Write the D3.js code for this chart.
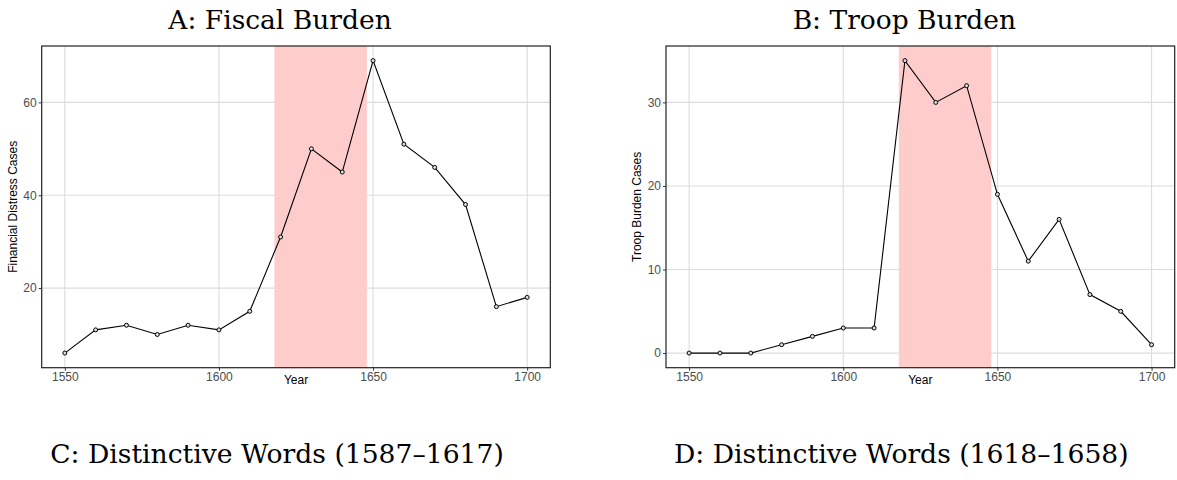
<!DOCTYPE html>
<html>
<head>
<meta charset="utf-8">
<script src="https://cdn.jsdelivr.net/npm/d3@7"></script>
<style>
  body { margin: 0; background: #fff; }
  .tick text { font-family: "Liberation Sans", Arial, sans-serif; font-size: 12px; fill: #4d4d4d; }
  .tick line { stroke: #333; }
  .ttl { font-family: "DejaVu Serif", "Liberation Serif", serif; fill: #000; }
  .axt { font-family: "Liberation Sans", Arial, sans-serif; font-size: 12px; fill: #000; }
</style>
</head>
<body>
<svg id="chart" width="1177" height="480"></svg>
<script>
// data
const years = [1550,1560,1570,1580,1590,1600,1610,1620,1630,1640,1650,1660,1670,1680,1690,1700];
const fiscalCases = [6,11,12,10,12,11,15,31,50,45,69,51,46,38,16,18];
const troopCases  = [0,0,0,1,2,3,3,35,30,32,19,11,16,7,5,1];
const shadeYears = [1618, 1648];
const xTicks = [1550,1600,1650,1700];
const fiscalTicks = [20,40,60];
const troopTicks = [0,10,20,30];
const topTitles = ["A: Fiscal Burden", "B: Troop Burden"];
const bottomTitles = ["C: Distinctive Words (1587\u20131617)", "D: Distinctive Words (1618\u20131658)"];

let svg = d3.select("#chart");

function drawPanel(left, right, values, yTicks, yLabel, title, subTitle) {
  let top = 46, bottom = 367.7;
  let g = svg.append("g");

  // ggplot-style 5% expansion
  let xr = d3.extent(years), xe = (xr[1] - xr[0]) * 0.05;
  let yr = d3.extent(values), ye = (yr[1] - yr[0]) * 0.05;
  let x = d3.scaleLinear().domain([xr[0] - xe, xr[1] + xe]).range([left, right]);
  let y = d3.scaleLinear().domain([yr[0] - ye, yr[1] + ye]).range([bottom, top]);

  // grid
  g.selectAll(".vg").data(xTicks).enter().append("line")
    .attr("x1", d => x(d)).attr("x2", d => x(d))
    .attr("y1", top).attr("y2", bottom)
    .attr("stroke", "#dcdcdc").attr("stroke-width", 1.1);
  g.selectAll(".hg").data(yTicks).enter().append("line")
    .attr("y1", d => y(d)).attr("y2", d => y(d))
    .attr("x1", left).attr("x2", right)
    .attr("stroke", "#dcdcdc").attr("stroke-width", 1.1);

  // shaded period
  g.append("rect")
    .attr("x", x(shadeYears[0])).attr("width", x(shadeYears[1]) - x(shadeYears[0]))
    .attr("y", top).attr("height", bottom - top)
    .attr("fill", "#ffcccc");

  // line + points
  let line = d3.line().x((d, i) => x(years[i])).y(d => y(d));
  g.append("path").datum(values)
    .attr("d", line).attr("fill", "none").attr("stroke", "#000").attr("stroke-width", 1.1);
  g.selectAll(".pt").data(values).enter().append("circle")
    .attr("cx", (d, i) => x(years[i])).attr("cy", d => y(d)).attr("r", 2)
    .attr("fill", "#ddd").attr("stroke", "#000").attr("stroke-width", 1);

  // border
  g.append("rect")
    .attr("x", left).attr("y", top).attr("width", right - left).attr("height", bottom - top)
    .attr("fill", "none").attr("stroke", "#222").attr("stroke-width", 1.2);

  // axes
  let ax = g.append("g").attr("transform", "translate(0," + bottom + ")")
    .call(d3.axisBottom(x).tickValues(xTicks).tickFormat(d3.format("d")).tickSize(3).tickPadding(1.5));
  ax.select(".domain").remove();
  let ay = g.append("g").attr("transform", "translate(" + left + ",0)")
    .call(d3.axisLeft(y).tickValues(yTicks).tickSize(3).tickPadding(2));
  ay.select(".domain").remove();

  // axis titles
  g.append("text").attr("class", "axt")
    .attr("x", (left + right) / 2).attr("y", 384.3).attr("text-anchor", "middle").text("Year");
  g.append("text").attr("class", "axt")
    .attr("transform", "translate(" + (left - 24.8) + "," + ((top + bottom) / 2) + ") rotate(-90)")
    .attr("text-anchor", "middle").text(yLabel);

  // titles
  g.append("text").attr("class", "ttl").style("font-size", "26.5px")
    .attr("x", (left + right) / 2 - 16).attr("y", 28.8).attr("text-anchor", "middle").text(title);
  g.append("text").attr("class", "ttl").style("font-size", "26.6px")
    .attr("x", (left + right) / 2 - 19).attr("y", 463).attr("text-anchor", "middle").text(subTitle);
}

drawPanel(41.7, 550.3, fiscalCases, fiscalTicks, "Financial Distress Cases", topTitles[0], bottomTitles[0]);
drawPanel(666, 1174.7, troopCases, troopTicks, "Troop Burden Cases", topTitles[1], bottomTitles[1]);
</script>
</body>
</html>
